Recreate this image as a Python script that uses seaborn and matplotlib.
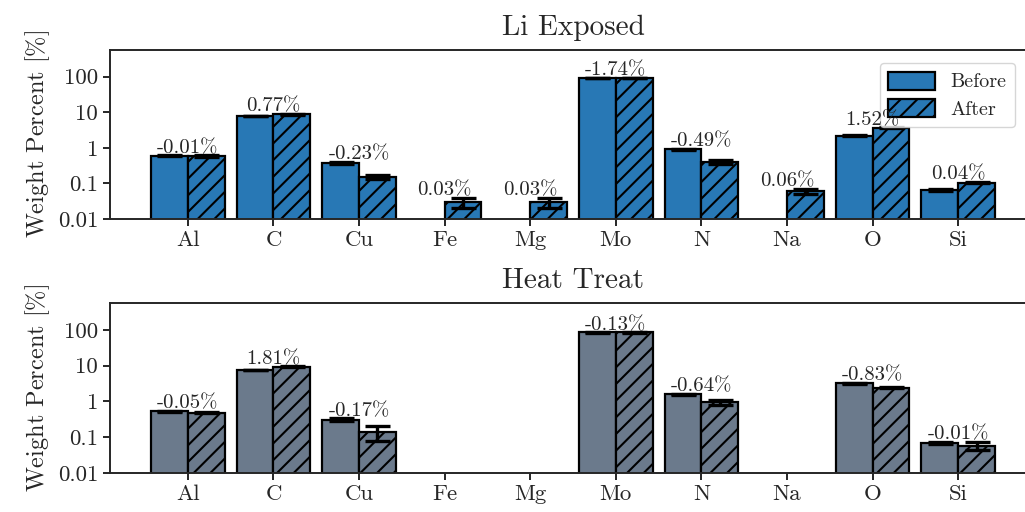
import numpy as np
import pandas as pd
import seaborn as sns
from matplotlib import pyplot as plt
from matplotlib.patches import Patch

elements = ["Al", "C", "Cu", "Fe", "Mg", "Mo", "N", "Na", "O", "Si"]

# Li Exposed: weight percent before / after, with errors
li_before = [0.60, 7.9, 0.38, np.nan, np.nan, 91.6, 0.90, np.nan, 2.2, 0.065]
li_before_err = [0.02, 0.15, 0.03, np.nan, np.nan, 0.5, 0.05, np.nan, 0.02, 0.004]
li_after = [0.59, 8.67, 0.15, 0.03, 0.03, 89.9, 0.41, 0.06, 3.72, 0.105]
li_after_err = [0.02, 0.2, 0.02, 0.01, 0.01, 0.5, 0.05, 0.01, 0.05, 0.005]
li_change = [-0.01, 0.77, -0.23, 0.03, 0.03, -1.74, -0.49, 0.06, 1.52, 0.04]

# Heat Treat
ht_before = [0.53, 7.6, 0.31, np.nan, np.nan, 84.2, 1.58, np.nan, 3.25, 0.068]
ht_before_err = [0.02, 0.15, 0.03, np.nan, np.nan, 0.5, 0.08, np.nan, 0.1, 0.005]
ht_after = [0.48, 9.41, 0.14, np.nan, np.nan, 84.07, 0.94, np.nan, 2.42, 0.058]
ht_after_err = [0.02, 0.2, 0.06, np.nan, np.nan, 0.5, 0.15, np.nan, 0.05, 0.015]
ht_change = [-0.05, 1.81, -0.17, None, None, -0.13, -0.64, None, -0.83, -0.01]

ytick_vals = [0.01, 0.1, 1, 10, 100]
ytick_labels = ["0.01", "0.1", "1", "10", "100"]

sns.set_style("ticks")
plt.rcParams["font.family"] = ["cmr10", "DejaVu Serif"]
plt.rcParams["mathtext.fontset"] = "cm"
plt.rcParams["axes.unicode_minus"] = False
plt.rcParams["hatch.linewidth"] = 1.5


def panel(ax, title, before, before_err, after, after_err, change, color):
    df = pd.DataFrame({
        "element": elements * 2,
        "stage": ["Before"] * len(elements) + ["After"] * len(elements),
        "wt": list(before) + list(after),
    })
    errs = {"Before": before_err, "After": after_err}
    sns.barplot(data=df, x="element", y="wt", hue="stage", order=elements,
                hue_order=["Before", "After"], errorbar=None, saturation=1,
                palette=[color, color], width=0.86, gap=0,
                edgecolor="black", linewidth=1.6, legend=False, ax=ax, log_scale=(False, True))
    tops = {}
    for stage, cont in zip(["Before", "After"], ax.containers):
        for bar in cont:
            h = bar.get_height()
            if not np.isfinite(h) or h <= 0:
                continue
            cx = bar.get_x() + bar.get_width() / 2
            i = int(round(cx))
            e = errs[stage][i]
            if stage == "After":
                bar.set_hatch("//")
            ax.errorbar(cx, h, yerr=e, color="black", capsize=9, capthick=2.4,
                        elinewidth=2.4, fmt="none", zorder=5)
            tops.setdefault(i, []).append(h + e)
    for i, c in enumerate(change):
        if c is None or i not in tops:
            continue
        ax.text(i, max(tops[i]) * 0.9, f"{c:.2f}%", ha="center", va="bottom",
                fontsize=15, zorder=6)
    ax.set_yscale("log")
    ax.set_ylim(0.01, 560)
    ax.set_xlim(-0.91, 9.91)
    ax.set_yticks(ytick_vals)
    ax.set_yticklabels(ytick_labels)
    ax.minorticks_off()
    ax.tick_params(axis="both", labelsize=16.5, length=5, width=1.4, direction="out")
    ax.set_xlabel("")
    ax.set_ylabel(r"Weight Percent $[\%]$", fontsize=17.5, labelpad=4)
    ax.set_title(title, fontsize=21, pad=11)
    for s in ax.spines.values():
        s.set_linewidth(1.4)


fig = plt.figure(figsize=(10.25, 5.12), dpi=100)
ax1 = fig.add_axes([110 / 1025, 1 - 219 / 512, 926 / 1025, 169 / 512])
ax2 = fig.add_axes([110 / 1025, 1 - 473 / 512, 926 / 1025, 170 / 512])

panel(ax1, "Li Exposed", li_before, li_before_err, li_after, li_after_err, li_change, "#2878b5")
panel(ax2, "Heat Treat", ht_before, ht_before_err, ht_after, ht_after_err, ht_change, "#6b7a8c")

handles = [Patch(facecolor="#2878b5", edgecolor="black", linewidth=1.6, label="Before"),
           Patch(facecolor="#2878b5", edgecolor="black", linewidth=1.6, hatch="//", label="After")]
ax1.legend(handles=handles, loc="upper right", bbox_to_anchor=(0.988, 0.98), fontsize=14.5,
           fancybox=True, framealpha=0.8, handlelength=2.3, handleheight=1.0,
           borderpad=0.4, labelspacing=0.4)

fig.savefig("out.png", dpi=100)
